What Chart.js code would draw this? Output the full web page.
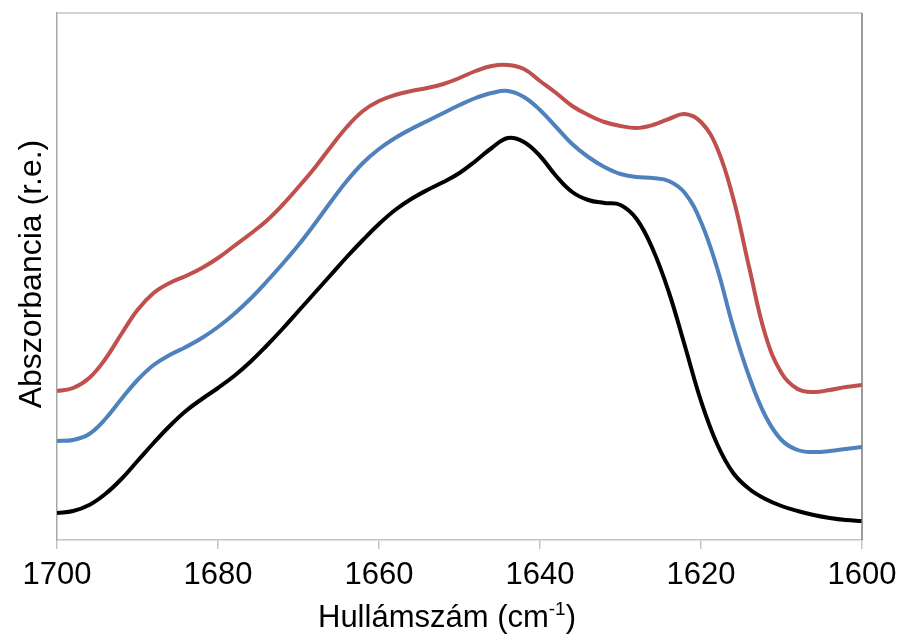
<!DOCTYPE html>
<html lang="hu">

<head>
    <meta charset="UTF-8">
    <title>Abszorbancia</title>
    <style>
        body { margin: 0; background: #fff; }
    </style>
</head>
<script src="https://cdn.jsdelivr.net/npm/chart.js"></script>

<body>
    <canvas id="chart_abs" width="899" height="636"></canvas>
</body>

<script>
    // wavenumbers, 1700 -> 1600 cm-1, every 2 cm-1
    var wavenumbers = [];
    for (var w = 1700; w >= 1600; w -= 2) wavenumbers.push(w);

    var absBlack = [0.027, 0.029, 0.035, 0.046, 0.061, 0.079, 0.097, 0.114, 0.129, 0.141,
        0.152, 0.164, 0.178, 0.194, 0.211, 0.229, 0.247, 0.265, 0.283, 0.300,
        0.316, 0.330, 0.341, 0.350, 0.358, 0.367, 0.379, 0.392, 0.402, 0.398,
        0.384, 0.364, 0.348, 0.340, 0.337, 0.335, 0.321, 0.291, 0.248, 0.194,
        0.139, 0.096, 0.067, 0.051, 0.041, 0.034, 0.029, 0.025, 0.022, 0.020, 0.019];

    var absBlue = [0.099, 0.100, 0.106, 0.121, 0.141, 0.160, 0.175, 0.185, 0.193, 0.202,
        0.213, 0.226, 0.241, 0.258, 0.276, 0.295, 0.316, 0.338, 0.359, 0.377,
        0.391, 0.402, 0.411, 0.419, 0.427, 0.435, 0.442, 0.447, 0.449, 0.443,
        0.430, 0.413, 0.396, 0.383, 0.373, 0.366, 0.363, 0.362, 0.359, 0.347,
        0.318, 0.272, 0.213, 0.163, 0.124, 0.100, 0.090, 0.088, 0.089, 0.091, 0.093];

    var absRed = [0.149, 0.152, 0.162, 0.181, 0.206, 0.230, 0.247, 0.257, 0.264, 0.272,
        0.282, 0.294, 0.306, 0.319, 0.335, 0.353, 0.372, 0.393, 0.413, 0.429,
        0.439, 0.445, 0.449, 0.452, 0.456, 0.462, 0.469, 0.474, 0.475, 0.471,
        0.459, 0.447, 0.434, 0.425, 0.418, 0.414, 0.412, 0.415, 0.421, 0.426,
        0.418, 0.392, 0.342, 0.272, 0.205, 0.167, 0.151, 0.148, 0.150, 0.153, 0.155];

    var xTitle = 'Hullámszám (cm';
    var xTitleSup = '-1';
    var yTitle = 'Abszorbancia (r.e.)';

    var FONT = "'Liberation Sans', Arial, sans-serif";

    function toPoints(vals) {
        return vals.map((v, i) => ({ x: wavenumbers[i], y: v }));
    }

    // frame around the plot + axis titles
    var frameTitles = {
        id: 'frameTitles',
        afterDraw(chart) {
            var ctx = chart.ctx, a = chart.chartArea;
            ctx.save();
            ctx.lineWidth = 1.5;
            ctx.strokeStyle = '#c4c4c4';
            ctx.beginPath();
            ctx.moveTo(a.left, a.top);
            ctx.lineTo(a.right, a.top);
            ctx.stroke();
            ctx.strokeStyle = '#7a7a7a';
            ctx.beginPath();
            ctx.moveTo(a.right, a.top);
            ctx.lineTo(a.right, a.bottom);
            ctx.stroke();

            ctx.fillStyle = '#000';
            ctx.textBaseline = 'alphabetic';

            // x title with superscript
            ctx.font = '31px ' + FONT;
            var w1 = ctx.measureText(xTitle).width;
            ctx.font = '19px ' + FONT;
            var w2 = ctx.measureText(xTitleSup).width;
            ctx.font = '31px ' + FONT;
            var w3 = ctx.measureText(')').width;
            var x0 = 447 - (w1 + w2 + w3) / 2;
            var base = 627;
            ctx.textAlign = 'left';
            ctx.fillText(xTitle, x0, base);
            ctx.font = '19px ' + FONT;
            ctx.fillText(xTitleSup, x0 + w1, base - 12);
            ctx.font = '31px ' + FONT;
            ctx.fillText(')', x0 + w1 + w2, base);

            // y title, rotated
            ctx.font = '32px ' + FONT;
            ctx.translate(41, 274);
            ctx.rotate(-Math.PI / 2);
            ctx.textAlign = 'center';
            ctx.fillText(yTitle, 0, 0);
            ctx.restore();
        }
    };

    var chart = new Chart(document.getElementById('chart_abs'), {
        type: 'line',
        data: {
            datasets: [
                { data: toPoints(absRed), borderColor: '#c0504d' },
                { data: toPoints(absBlue), borderColor: '#4f81bd' },
                { data: toPoints(absBlack), borderColor: '#000000' },
            ]
        },
        options: {
            responsive: false,
            animation: false,
            layout: { padding: { top: 13, right: 37, left: 0, bottom: 0 } },
            elements: {
                line: { borderWidth: 4, tension: 0.4, fill: false },
                point: { radius: 0 }
            },
            plugins: {
                legend: { display: false },
                tooltip: { enabled: false }
            },
            scales: {
                x: {
                    type: 'linear',
                    reverse: true,
                    min: 1600,
                    max: 1700,
                    afterFit: s => {
                        s.height = 96;
                        s.paddingLeft = 0;
                        s.paddingRight = 0;
                    },
                    ticks: {
                        stepSize: 20,
                        padding: 8,
                        color: '#000',
                        font: { family: FONT, size: 31 },
                        callback: v => String(v)
                    },
                    grid: {
                        drawOnChartArea: false,
                        tickLength: 9,
                        color: '#c4c4c4',
                        lineWidth: 1.5
                    },
                    border: { color: '#c4c4c4', width: 1.5 }
                },
                y: {
                    min: 0,
                    max: 0.527,
                    afterFit: s => { s.width = 57; },
                    ticks: { display: false },
                    grid: { drawOnChartArea: false, drawTicks: false },
                    border: { color: '#a8a8a8', width: 1.5 }
                }
            }
        },
        plugins: [frameTitles]
    });
</script>

</html>
